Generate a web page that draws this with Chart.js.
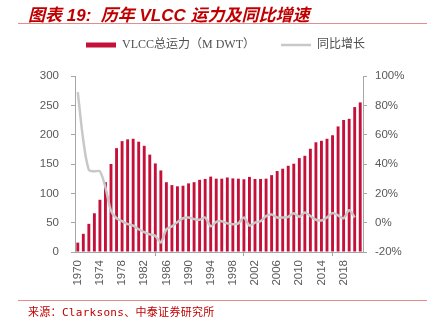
<!DOCTYPE html>
<html>
<head>
<meta charset="utf-8">
<script src="https://cdn.jsdelivr.net/npm/chart.js"></script>
<style>
  html, body { margin: 0; padding: 0; background: #fff; }
  #wrap { position: relative; width: 427px; height: 322px; overflow: hidden; }
  #title {
    position: absolute; left: 28px; top: 1px;
    font: italic bold 17px "Liberation Sans", "Noto Sans CJK SC", sans-serif;
    color: #c00000; white-space: nowrap;
  }
  .rule { position: absolute; left: 18px; right: 0; height: 1px; background: #e58c8c; }
  #source {
    position: absolute; left: 28px; top: 303px;
    font: 11px "DejaVu Sans Mono", "Noto Sans CJK SC", monospace;
    letter-spacing: 0.3px;
    color: #c00000; white-space: nowrap;
  }
  canvas { position: absolute; left: 0; top: 0; }
</style>
</head>
<body>
<div id="wrap">
  <canvas id="chart" width="427" height="322"></canvas>
  <div id="title">图表 19:&nbsp; 历年 VLCC 运力及同比增速</div>
  <div class="rule" style="top:23px"></div>
  <div class="rule" style="top:300px"></div>
  <div id="source">来源：Clarksons、中泰证券研究所</div>
</div>
<script>
// years on the x axis
const years = ['1970','1971','1972','1973','1974','1975','1976','1977','1978','1979',
  '1980','1981','1982','1983','1984','1985','1986','1987','1988','1989',
  '1990','1991','1992','1993','1994','1995','1996','1997','1998','1999',
  '2000','2001','2002','2003','2004','2005','2006','2007','2008','2009',
  '2010','2011','2012','2013','2014','2015','2016','2017','2018','2019',
  '2020','2021'];

// VLCC total capacity, M DWT
const capacity = [16, 31, 48, 66, 89, 119, 150, 177, 189, 192,
  193, 188, 181, 166, 151, 139, 119, 114, 112, 113,
  117, 119, 123, 124.5, 128.5, 125, 125, 127, 125.5, 125,
  124, 128, 124.5, 124.5, 125, 131, 138, 142, 147, 150.5,
  160, 164, 176, 187, 189.5, 193, 199, 214, 225, 227,
  247, 255];

// yoy growth, %
const growth = [89, 56, 36, 35, 35, 24, 8, 3, 1, -1,
  -2, -4.5, -6.5, -8, -9, -13.5, -4.5, -2.5, 0.5, 3,
  3.5, 2.5, 2, 3.5, -2.5, 0.5, 1, -0.5, -1, -0.5,
  3.5, -2, 0, 1, 4.5, 5.5, 3.5, 3.5, 4, 6.5,
  4, 7, 4.5, 2, 1.5, 3.5, 6.5, 5, 3, 8.5,
  3.5, null];

const labelFont = { family: '"Liberation Sans", Arial, sans-serif', size: 11.5 };
const axisGray = '#a6a6a6';
const tickGray = '#595959';

// push the plot down a bit below the legend
const legendGap = {
  id: 'legendGap',
  beforeInit: function(chart) {
    const fit = chart.legend.fit;
    chart.legend.fit = function() {
      fit.bind(chart.legend)();
      this.height += 15;
    };
  }
};

new Chart(document.getElementById('chart'), {
  data: {
    labels: years,
    datasets: [{
      type: 'line',
      label: '同比增长',
      data: growth,
      yAxisID: 'y2',
      borderColor: '#c8c8c8',
      backgroundColor: '#c8c8c8',
      borderWidth: 2.5,
      pointRadius: 0,
      tension: 0.3,
      order: 0
    }, {
      type: 'bar',
      label: 'VLCC总运力（M DWT）',
      data: capacity,
      yAxisID: 'y',
      backgroundColor: '#c5103a',
      barPercentage: 0.52,
      categoryPercentage: 1,
      order: 1
    }]
  },
  plugins: [legendGap],
  options: {
    responsive: false,
    animation: false,
    layout: { padding: { top: 13, left: 24, right: 0, bottom: 0 } },
    plugins: {
      legend: {
        position: 'top',
        reverse: true,
        labels: {
          usePointStyle: true,
          pointStyleWidth: 30,
          boxHeight: 5,
          padding: 26,
          color: '#505050',
          font: { family: '"Liberation Serif", "Noto Sans CJK SC", serif', size: 12 },
          generateLabels: function(chart) {
            const items = Chart.defaults.plugins.legend.labels.generateLabels(chart);
            items.forEach(function(it) {
              if (it.text === '同比增长') {
                it.pointStyle = 'line';
                it.lineWidth = 2.5;
              } else {
                it.pointStyle = 'rect';
                it.lineWidth = 0;
              }
            });
            return items;
          }
        }
      },
      tooltip: { enabled: false }
    },
    scales: {
      x: {
        offset: true,
        grid: {
          offset: true,
          drawOnChartArea: false,
          tickLength: 4,
          color: function(ctx) { return ctx.index % 4 === 0 ? axisGray : 'rgba(0,0,0,0)'; }
        },
        border: { color: axisGray },
        ticks: {
          autoSkip: false,
          minRotation: 90,
          maxRotation: 90,
          padding: 4,
          color: tickGray,
          font: labelFont,
          callback: function(v, i) { return i % 4 === 0 ? years[i] : null; }
        },
        afterFit: function(s) { s.height = 70; }
      },
      y: {
        position: 'left',
        min: 0, max: 300,
        grid: { drawOnChartArea: false, tickLength: 4, color: axisGray },
        border: { color: axisGray },
        ticks: { stepSize: 50, padding: 12, color: tickGray, font: labelFont },
        afterFit: function(s) { s.width = 51; }
      },
      y2: {
        position: 'right',
        min: -20, max: 100,
        grid: { drawOnChartArea: false, tickLength: 4, color: axisGray },
        border: { color: axisGray },
        ticks: { stepSize: 20, padding: 8, color: tickGray, font: labelFont,
          callback: function(v) { return v + '%'; } },
        afterFit: function(s) { s.width = 64; }
      }
    }
  }
});
</script>
</body>
</html>
